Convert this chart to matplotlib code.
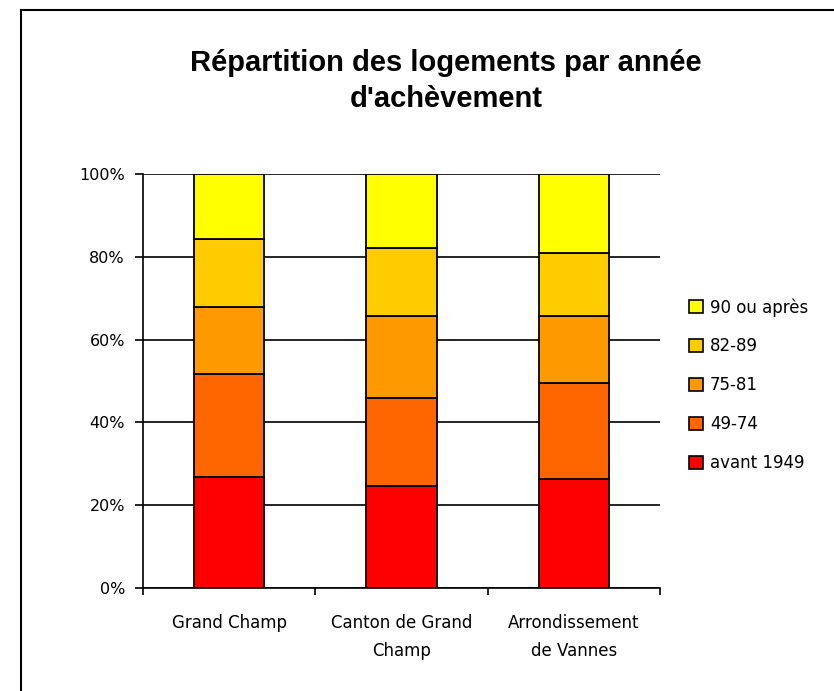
import numpy as np
import matplotlib
matplotlib.use("Agg")
from matplotlib import pyplot as plt
from matplotlib.lines import Line2D
from matplotlib.patches import Patch

categories = ["Grand Champ", "Canton de Grand\nChamp", "Arrondissement\nde Vannes"]
series_labels = ["avant 1949", "49-74", "75-81", "82-89", "90 ou après"]
avant_1949 = [26.9, 24.6, 26.3]
p49_74 = [24.7, 21.4, 23.1]
p75_81 = [16.3, 19.8, 16.3]
p82_89 = [16.3, 16.3, 15.3]
p90_apres = [15.8, 17.9, 19.0]
colors = ["#FF0000", "#FF6600", "#FF9900", "#FFCC00", "#FFFF00"]

plt.rcParams["font.family"] = ["DejaVu Sans"]

fig = plt.figure(figsize=(8.34, 6.91), dpi=100)
ax = fig.add_axes([143 / 834, 1 - 588 / 691, (660 - 143) / 834, (588 - 174) / 691])

x = np.arange(len(categories))
bottom = np.zeros(len(categories))
for values, color, label in zip([avant_1949, p49_74, p75_81, p82_89, p90_apres], colors, series_labels):
    ax.bar(x, values, bottom=bottom, width=0.41, color=color, edgecolor="black",
           linewidth=1.3, label=label, zorder=3)
    bottom += np.array(values)

ax.set_xlim(-0.5, 2.5)
ax.set_ylim(0, 100)
ax.set_yticks(np.arange(0, 101, 20))
ax.set_yticklabels([f"{v}%" for v in range(0, 101, 20)], fontsize=11.5)
ax.yaxis.grid(True, color="black", linewidth=1.2, zorder=0)
ax.set_axisbelow(True)

# category labels centred under bars, ticks at the category boundaries
ax.set_xticks([-0.5, 0.5, 1.5, 2.5])
ax.set_xticklabels([])
ax.tick_params(axis="x", direction="out", length=5, width=1.2)
ax.tick_params(axis="y", direction="out", length=6, width=1.2, pad=7)
for xi, cat in zip(x, categories):
    ax.text(xi, -6.2, cat, ha="center", va="top", fontsize=12, linespacing=1.75,
            transform=ax.transData)

for side in ["top", "right"]:
    ax.spines[side].set_visible(False)
ax.spines["left"].set_linewidth(1.2)
ax.spines["bottom"].set_linewidth(1.2)

fig.text(446 / 834, 1 - 81 / 691, "Répartition des logements par année\nd'achèvement",
         ha="center", va="center", fontsize=21, fontweight="bold", linespacing=1.35,
         family=["Liberation Sans", "DejaVu Sans"])

handles = [Patch(facecolor=c, edgecolor="black", linewidth=1.2) for c in colors[::-1]]
fig.legend(handles, series_labels[::-1], loc="center left",
           bbox_to_anchor=(689 / 834, 1 - 385 / 691), frameon=False, fontsize=12,
           handlelength=0.85, handleheight=0.85, handletextpad=0.4, labelspacing=1.25,
           borderpad=0, borderaxespad=0)

# outer frame around the chart
fig.add_artist(Line2D([21 / 834, 21 / 834], [0, 1 - 10 / 691], color="black", linewidth=1.5))
fig.add_artist(Line2D([21 / 834, 1], [1 - 10 / 691, 1 - 10 / 691], color="black", linewidth=1.5))

fig.savefig("out.png", dpi=100)
